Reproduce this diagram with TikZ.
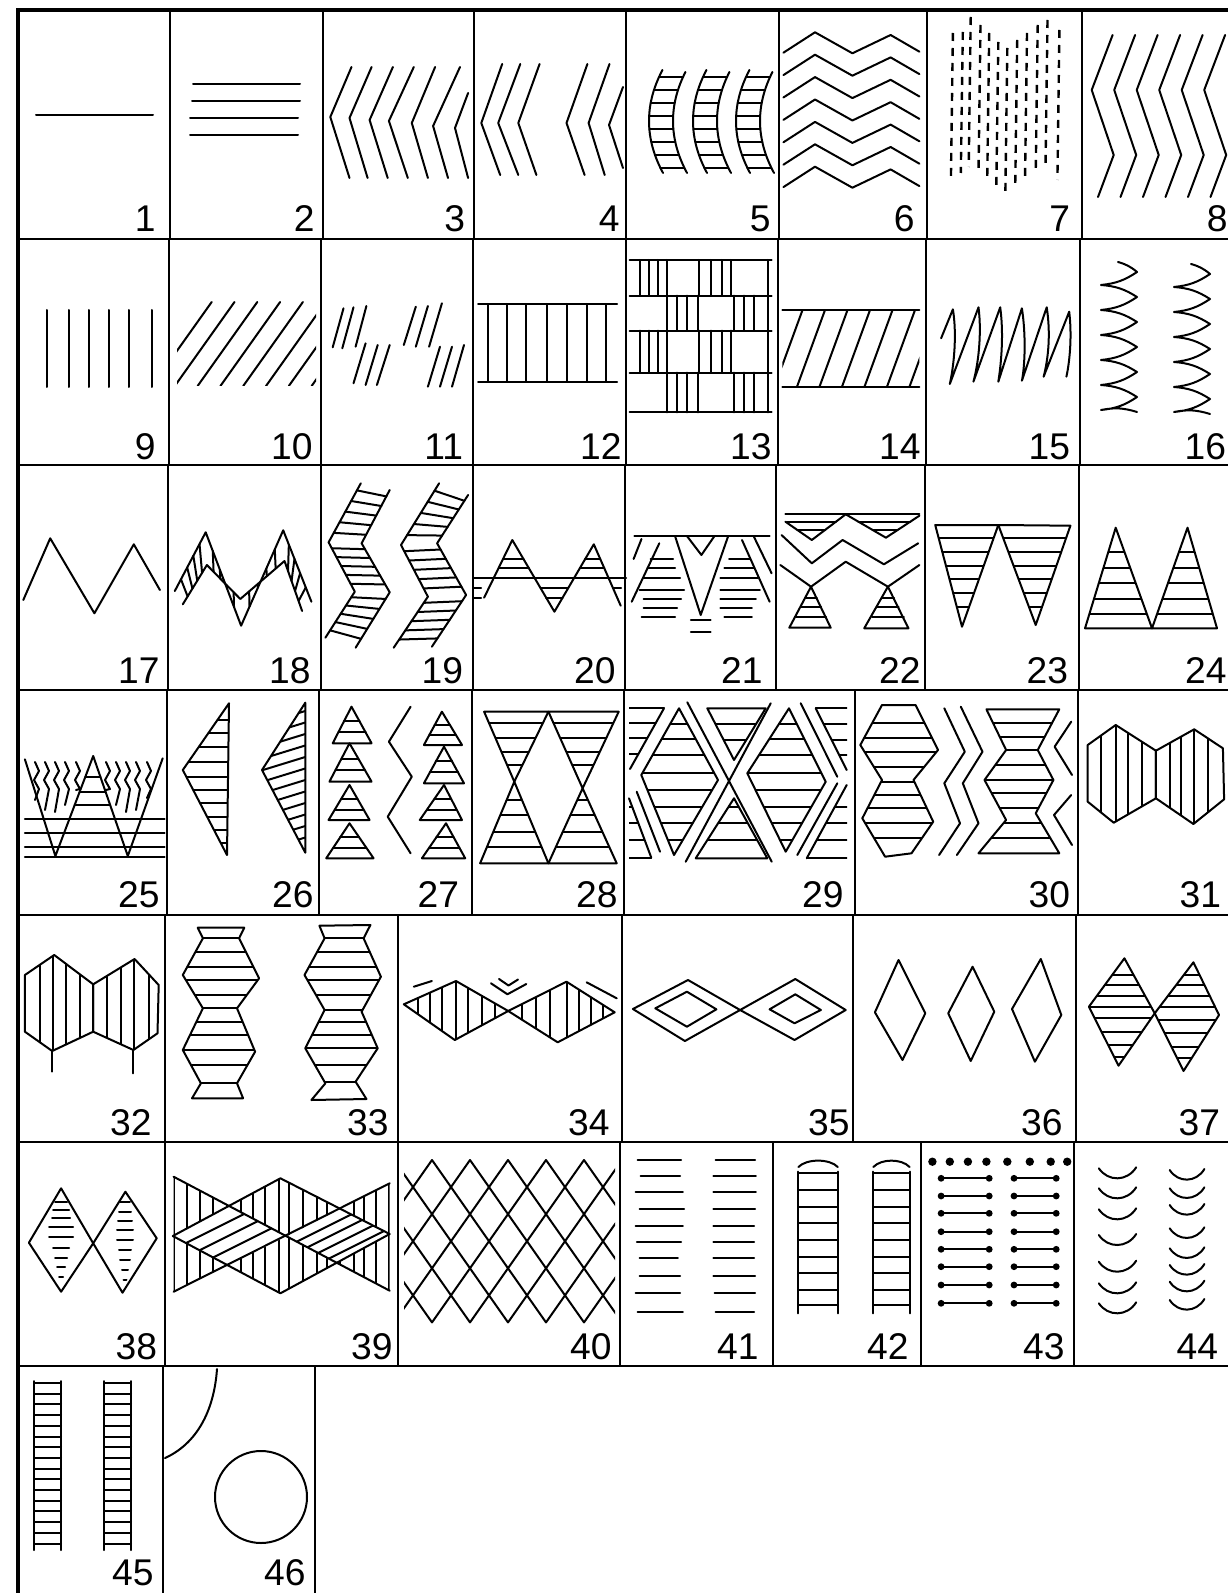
\documentclass[tikz,border=0pt]{standalone}
\usepackage{fontspec}
\setmainfont{Liberation Sans}
\usetikzlibrary{calc}
\newcommand\hclip[2]{\begin{scope}\clip #1;\foreach \yy in {#2}{\draw[pat] (0,\yy) -- (1228,\yy);}\end{scope}}
\newcommand\hpoly[2]{\hclip{#1}{#2}\draw[pat] #1;}
\newcommand\vpoly[2]{\begin{scope}\clip #1;\foreach \xx in {#2}{\draw[pat] (\xx,0) -- (\xx,1593);}\end{scope}\draw[pat] #1;}
\begin{document}
\begin{tikzpicture}[x=0.5pt,y=-0.5pt,
  pat/.style={line width=1pt,line cap=round,line join=round},
  gridl/.style={line width=0.9pt},
  outer/.style={line width=1.8pt},
  lbl/.style={anchor=base east,inner sep=0pt,font=\fontsize{18.6}{20}\selectfont}]
\useasboundingbox (0,0) rectangle (1228,1593);
\clip (0,0) rectangle (1228,1593);
% ---------------- grid
\draw[outer] (18,1593) -- (18,10) -- (1228,10);
\foreach \y in {239,465,690,915,1142,1366} \draw[gridl] (18,\y) -- (1228,\y);
\foreach \x in {170,323,474,626,779,927,1082} \draw[gridl] (\x,10) -- (\x,239);
\foreach \x in {169,321,473,626,778,926,1080} \draw[gridl] (\x,239) -- (\x,465);
\foreach \x in {168,321,473,625,776,925,1079} \draw[gridl] (\x,465) -- (\x,690);
\foreach \x in {167,319,472,624,855,1078} \draw[gridl] (\x,690) -- (\x,915);
\foreach \x in {165,398,622,853,1076} \draw[gridl] (\x,915) -- (\x,1142);
\foreach \x in {165,398,620,773,921,1074} \draw[gridl] (\x,1142) -- (\x,1366);
\foreach \x in {163,315} \draw[gridl] (\x,1366) -- (\x,1593);
% ---------------- labels
\foreach \x/\y/\n in {156/232/1,315/232/2,465.5/232/3,620/232/4,771/232/5,915/232/6,1070.5/232/7,1228/232/8,
156/459/9,313/459/10,463.5/459/11,622/459/12,772/459/13,921/459/14,1070.5/459/15,1226.5/459/16,
160/683/17,311/683/18,463.5/683/19,616/683/20,763/683/21,921/683/22,1068.5/683/23,1227/683/24,
160/907/25,314/907/26,459.5/907/27,618/907/28,844/907/29,1070.5/907/30,1221.5/907/31,
152/1135/32,389/1135/33,610/1135/34,850/1135/35,1063/1135/36,1220.5/1135/37,
157.5/1359/38,393/1359/39,612/1359/40,759/1359/41,909/1359/42,1065/1359/43,1218.5/1359/44,
154/1585/45,306/1585/46}
  \node[lbl] (l\n) at (\x,\y) {\n};
% ---------------- 1
\draw[pat] (36,115) -- (153,115);
% ---------------- 2
\foreach \y/\a/\b in {84/193/300,101/192/300,118/190/298,135/190/298} \draw[pat] (\a,\y) -- (\b,\y);
% ---------------- 3
\foreach \t/\ty/\v/\vy/\b in {351.5/67/330.3/117/349.5,371.6/67/349.5/118/367.6,392.9/67/369.6/120/387.7,413.8/67/388.9/121/407.8,435.1/67/411.8/123/427.9,460/67/433.1/126/448,468.1/93/455/128/468.1}
  \draw[pat] (\t,\ty) -- (\v,\vy) -- (\b,178);
% ---------------- 4
\foreach \t/\v/\b in {502.2/481.3/500.2,520.3/498.2/518.3,539.6/518.3/536.4,587.4/566.5/584.6,609.5/588.6/604.7}
  \draw[pat] (\t,64) -- (\v,123) -- (\b,175);
\draw[pat] (623,87) -- (609,125) -- (623,168);
% ---------------- 5
\foreach \a in {649,693,736}{
  \draw[pat] plot[variable=\t,domain=70:173,samples=25] ({\a+14*((\t-121)/52)*((\t-121)/52)},\t);
  \draw[pat] plot[variable=\t,domain=72:173,samples=25] ({\a+24+14*((\t-121)/52)*((\t-121)/52)},\t);
  \foreach \r in {77,90,103,116,129,142,155,168}
    \draw[pat] ({\a+14*((\r-121)/52)*((\r-121)/52)},\r) -- ({\a+24+14*((\r-121)/52)*((\r-121)/52)},\r);
}
% ---------------- 6
\foreach \k in {0,...,6}{\pgfmathsetmacro\p{32.3+22.4*\k}
  \draw[pat] (783.4,\p+20.4) -- (815,\p) -- (852.4,\p+21) -- (890.6,\p+2.7) -- (919.4,\p+19.4);}
% ---------------- 7
\foreach \x/\a/\b in {952.9/33/180,962.8/32/173,970.7/17/167,980.5/25/173,989.2/33/180,998.3/42/187,1007.3/48/197,1017.2/40/187,1027/33/180,1037.7/25/173,1047.5/20/167,1059.4/30/180}
  \draw[line width=1.2pt,dash pattern=on 4pt off 3.5pt] (\x,\a) -- (\x-2,\b);
% ---------------- 8
\foreach \k in {0,...,5}
  \draw[pat] (1112.6+22.5*\k,35) -- (1091.7+22.5*\k,90) -- (1113.7+22.5*\k,155) -- (1098+22.5*\k,197);
% ---------------- 9
\foreach \x in {47.4,69.1,89.2,108.5,129.4,151.9} \draw[pat] (\x,310) -- (\x,387);
% ---------------- 10
\begin{scope}\clip (177,302) rectangle (316,386);
\foreach \k in {0,...,7} \draw[pat] (152+22.8*\k,386) -- (211.7+22.8*\k,302);
\end{scope}
% ---------------- 11
\foreach \a/\b/\c/\d in {332.7/347.3/343.5/308.3,342.3/348.3/353.5/307.3,355.6/346.7/366.4/306,353.5/383.3/365.6/343.3,365.6/385/377.7/345,376.9/385/389.7/345,403.8/345/415.8/306.7,415.8/346.7/427.9/306,429.1/346.7/441.9/303.3,427.9/386.7/440/346.7,440/386.7/452/346.7,452/386.7/464/345}
  \draw[pat] (\a,\b) -- (\c,\d);
% ---------------- 12
\draw[pat] (478,304) -- (617,304); \draw[pat] (478,381.7) -- (617,381.7);
\foreach \x in {488.1,507,526.3,547.2,567.3,587.4,605.9} \draw[pat] (\x,304) -- (\x,381.7);
% ---------------- 13
\foreach \y in {260,295.7,330.7,372.7,412.3} \draw[pat] (629.7,\y) -- (771.6,\y);
\foreach \ya/\yb in {260/295.7,330.7/372.7} \foreach \x in {639.6,649.4,658.1,667.2,698.7,710.5,721.5,731,767.7} \draw[pat] (\x,\ya) -- (\x,\yb);
\foreach \ya/\yb in {295.7/330.7,372.7/412.3} \foreach \x in {667.2,677,686.9,697.5,734.2,744,753.9,767.7} \draw[pat] (\x,\ya) -- (\x,\yb);
% ---------------- 14
\draw[pat] (782.3,310) -- (919.4,310); \draw[pat] (782.3,386.7) -- (919.4,386.7);
\begin{scope}\clip (782.3,305) rectangle (919.4,392);
\foreach \k in {0,...,7} \draw[pat] (774.5+22.5*\k,386.7) -- (802.5+22.5*\k,310);
\end{scope}
% ---------------- 15
\draw[pat] (941.1,338.3) -- (952.9,309.3) .. controls (957,335) and (954,365) .. (949.8,384) -- (978.5,307.3) .. controls (982,335) and (978,365) .. (973.4,381.7) -- (1000.2,307.3) .. controls (1004,335) and (1001,365) .. (998.3,381.7) -- (1021.9,308.3) .. controls (1026,335) and (1025,365) .. (1021.9,380.7) -- (1046.7,307.3) .. controls (1051,335) and (1048,360) .. (1043.6,376.7) -- (1069.2,311.7) .. controls (1072,335) and (1070,360) .. (1066.4,376.7);
% ---------------- 16
\foreach \ox/\oy in {0/0,73/2}{
\draw[pat] (1118+\ox,262+\oy) to[bend left=12] (1137+\ox,272+\oy)
  \foreach \k in {0,...,4}{ to[bend left=14] (1101+\ox,285+25*\k+\oy) to[bend left=14] (1137+\ox,297+25*\k+\oy)}
  to[bend left=14] (1101+\ox,410+\oy) to[bend left=14] (1137+\ox,412+\oy);}
% ---------------- 17
\draw[pat] (23.3,600) -- (50.2,538.3) -- (94.4,613.3) -- (133.8,544.3) -- (159.9,590);
% ---------------- 18
\coordinate (o0) at (174.8,591); \coordinate (o1) at (205.7,532.3); \coordinate (o2) at (241.1,625.7); \coordinate (o3) at (283.2,530.3); \coordinate (o4) at (311.4,601.7);
\coordinate (i0) at (182.8,604.3); \coordinate (i1) at (206.9,565); \coordinate (i2) at (240.3,599); \coordinate (i3) at (284.5,561); \coordinate (i4) at (302.1,611);
\draw[pat] (o0)--(o1)--(o2)--(o3)--(o4); \draw[pat] (i0)--(i1)--(i2)--(i3)--(i4);
\foreach \i/\j in {0/1,1/2,2/3,3/4}\foreach \t in {0.2,0.4,0.6,0.8}\draw[pat] ($(o\i)!\t!(o\j)$) -- ($(i\i)!\t!(i\j)$);
% ---------------- 19
\coordinate (a0) at (360.8,483.3); \coordinate (a1) at (328.6,542.3); \coordinate (a2) at (354.8,591.7); \coordinate (a3) at (325.4,637.7);
\coordinate (b0) at (389.7,490); \coordinate (b1) at (361.6,543.3); \coordinate (b2) at (389.7,592.3); \coordinate (b3) at (355.6,647.7);
\coordinate (c0) at (439.1,483.3); \coordinate (c1) at (401,545); \coordinate (c2) at (427.9,596.7); \coordinate (c3) at (393.7,647.7);
\coordinate (d0) at (468.1,495); \coordinate (d1) at (437.1,543.3); \coordinate (d2) at (466.1,595); \coordinate (d3) at (431.9,646.7);
\draw[pat] (a0)--(a1)--(a2)--(a3); \draw[pat] (b0)--(b1)--(b2)--(b3);
\draw[pat] (c0)--(c1)--(c2)--(c3); \draw[pat] (d0)--(d1)--(d2)--(d3);
\foreach \i/\j in {0/1,1/2,2/3}\foreach \t in {0.12,0.3,0.48,0.66,0.84}{
  \draw[pat] ($(a\i)!\t!(a\j)$) -- ($(b\i)!\t!(b\j)$);
  \draw[pat] ($(c\i)!\t!(c\j)$) -- ($(d\i)!\t!(d\j)$);}
% ---------------- 20
\draw[pat] (474,577.7) -- (626,577.7);
\draw[pat] (484.1,597.7) -- (512.3,540) -- (554.4,611.7) -- (593.8,544.3) -- (620.7,605.7);
\foreach \a/\b/\y in {503/523.5/559,498.5/528.9/568.3,540.7/568.1/588.3,546.2/562.6/597.7,585.2/600.1/559,579.8/604.3/568.3,474/481/588.3,474/481/597.7,613/621/588.3}
  \draw[pat] (\a,\y) -- (\b,\y);
% ---------------- 21
\draw[pat] (634.4,536) -- (769.6,536);
\draw[pat] (675,536) -- (700.7,615) -- (728.2,536);
\draw[pat] (686.9,536) -- (701.4,555) -- (714.5,536);
\draw[pat] (659.3,543.3) -- (631.7,601.7);
\draw[pat] (742,540) -- (769.6,601.7);
\draw[pat] (641.5,539) -- (633.6,559);
\draw[pat] (753.9,536.7) -- (771.6,573.3);
\foreach \a/\b/\y in {650.5/673/559,647.4/675/568.3,643.5/680/578.3,639.6/684/590,643.5/681/599,643.5/677/608.3,641.5/675/617.3,
  729/749.9/559,724.3/753.9/568.3,720.4/757.8/578.3,720.4/759.8/590,720.4/755.8/599,720.4/751.9/608.3,724.3/751.9/617.3,
  690.8/710.5/620,690.8/710.5/631.7}
  \draw[pat] (\a,\y) -- (\b,\y);
% ---------------- 22
\draw[pat] (785.4,514.3) -- (919.4,514.3);
\draw[pat] (785.4,521.7) -- (811.8,540) -- (845.7,514.3) -- (885.9,537.7) -- (919.4,515.7);
\draw[pat] (781.5,535) -- (811.8,563.3) -- (842.6,540) -- (883.9,564.3) -- (918.2,543.3);
\draw[pat] (780.3,565) -- (811,586.7) -- (845.7,561.7) -- (887.9,586.7) -- (919.4,565);
\draw[pat] (811,586.7) -- (789.3,627.7) -- (830.7,627.7) -- cycle;
\draw[pat] (887.9,586.7) -- (864.2,628.3) -- (908.4,628.3) -- cycle;
\foreach \a/\b/\y in {787/835.9/521.7,797.4/825/530,858.4/910.3/521.7,872.7/897.6/530,805.1/816.9/598.3,800.9/821.1/606.7,795.9/826.1/616.7,881.7/894.1/598.3,877.3/898.5/606.7,872/903.8/616.7}
  \draw[pat] (\a,\y) -- (\b,\y);
% ---------------- 23
\hpoly{(935.2,525) -- (998.3,525) -- (962,626.7) -- cycle}{538.3,552.3,565.7,579,593.3,606.7}
\hpoly{(998.3,525) -- (1070.4,525.7) -- (1035.7,625) -- cycle}{538.3,552.3,565.7,579,593.3,606.7}
% ---------------- 24
\hpoly{(1085,628.3) -- (1115.7,527.7) -- (1152,628.3) -- cycle}{551.7,568.3,583.3,599.3,614.3}
\hpoly{(1152,628.3) -- (1187.5,527.7) -- (1217,628.3) -- cycle}{551.7,568.3,583.3,599.3,614.3}
% ---------------- 25
\draw[pat] (24.9,759.3) -- (55.4,856) -- (93.2,756) -- (127.8,856) -- (162.7,758.3);
\foreach \y in {819.3,832.7,846.7,857.3} \draw[pat] (24.9,\y) -- (164.7,\y);
\foreach \y/\a/\b in {776.7/85.4/100.4,791.7/79.7/105.6,805/74.7/110} \draw[pat] (\a,\y) -- (\b,\y);
\foreach \x/\e in {35/800,45/810,55/812,65/805,76/790,106/790,116/805,126/812,136/810,147/798}
  \draw[pat] (\x,762) -- (\x+4,771) -- (\x-1,780) -- (\x+4,789) -- (\x,\e);
% ---------------- 26
\hpoly{(229,703.3) -- (182.8,770) -- (227,855) -- cycle}{720,733.3,746.7,761.7,776.7,790,803.3,816.7,830,843.3}
\begin{scope}\clip (305.3,702.7) -- (262,770) -- (305.3,852.7) -- cycle;
\foreach \k in {0,...,12} \draw[pat] (250,728+11.5*\k) -- (315,708+11.5*\k);
\end{scope}
\draw[pat] (305.3,702.7) -- (262,770) -- (305.3,852.7) -- cycle;
% ---------------- 27
\foreach \ax/\ay/\lx/\rx/\by in {351.5/706.7/332.7/371.6/743.3,349.5/743.3/329.4/371.6/781.7,349.5/785/328.6/369.6/820,349.5/823.3/326.2/373.6/858.3,441.9/711.7/423.9/462/745,444/746.7/423.9/464/783.3,444/785/419.8/462/820,446/823.3/421.9/465.2/858.3}{
  \draw[pat] (\ax,\ay) -- (\lx,\by) -- (\rx,\by) -- cycle;
  \foreach \f in {0.4,0.7} \draw[pat] ($(\ax,\ay)!\f!(\lx,\by)$) -- ($(\ax,\ay)!\f!(\rx,\by)$);}
\draw[pat] (410.6,706.7) -- (388.9,741.7) -- (411.8,776.7) -- (387.7,816.7) -- (410.6,853.3);
% ---------------- 28
\hpoly{(484.1,711.7) -- (548.4,711.7) -- (514.3,781.7) -- cycle}{723.3,738.3,751.7,765}
\hpoly{(514.3,781.7) -- (480.1,863.3) -- (548.4,863.3) -- cycle}{800,815,831.7,846.7}
\hpoly{(548.4,711.7) -- (618.7,711.7) -- (582.6,788.3) -- cycle}{723.3,738.3,751.7,765}
\hpoly{(582.6,788.3) -- (548.4,863.3) -- (616.7,863.3) -- cycle}{800,815,831.7,846.7}
% ---------------- 29
\hclip{(629,705) -- (665.9,705) -- (630,770) -- (629,770) -- cycle}{708.3,723.3,738.3,754.3}
\draw[pat] (664,708.3) -- (630,769);
\hpoly{(679,708.3) -- (641.3,775) -- (674,855) -- (718,780) -- cycle}{724.3,739.3,755,772.7,790,806.7,823.3,840}
\hpoly{(789,708.3) -- (747.3,773.3) -- (785.7,851.7) -- (825.7,781.7) -- cycle}{724.3,739.3,755,772.7,790,806.7,823.3,840}
\hpoly{(707.3,708.3) -- (765.7,708.3) -- (734,760) -- cycle}{724.3,740}
\hpoly{(734,798.3) -- (695.7,858.3) -- (767.3,858.3) -- cycle}{806.7,823.3,840}
\hclip{(629,796) -- (652.2,860) -- (629,860) -- cycle}{806.7,823.3,840,857.7}
\draw[pat] (629,798.3) -- (651.3,857.7);
\hclip{(814.5,706) -- (847,706) -- (847,771) -- cycle}{708.3,724.3,740,755}
\draw[pat] (815.7,708.3) -- (846.7,770);
\hclip{(847,784) -- (847,860) -- (805.8,860) -- cycle}{806.7,823.3,840,858.3}
\draw[pat] (846.7,785) -- (806.7,858.3);
\draw[pat] (687.3,702.3) -- (771.7,861.7);
\draw[pat] (770.7,703.3) -- (685.7,861.7);
\draw[pat] (636.7,791.7) -- (660,851.7);
\draw[pat] (800.7,703.3) -- (837.3,776.7);
\draw[pat] (837.3,783.3) -- (797.3,855);
% ---------------- 30
\hpoly{(882,705) -- (915.5,705) -- (938,750) -- (913.5,780) -- (933.2,821.7) -- (911.5,853.3) -- (885.1,856.7) -- (862.3,818.3) -- (882,780) -- (860.3,745) -- cycle}{723.3,738.3,751.7,766.7,781.7,795,808.3,823.3,838.3}
\draw[pat] (944.3,708.3) -- (964.8,751.7) -- (944.3,783.3) -- (960,823.3) -- (939.1,855);
\draw[pat] (960.8,706.7) -- (982.5,751.7) -- (962.8,783.3) -- (978.5,823.3) -- (956.9,855);
\hpoly{(986.4,709.3) -- (1059.3,709.3) -- (1037.7,750) -- (1053.4,780) -- (1035.7,813.3) -- (1059.3,853.3) -- (978.5,853.3) -- (1006.1,820) -- (984.5,780) -- (1006.1,750) -- cycle}{723.3,736.7,750,765,780,793.3,808.3,823.3,838.3}
\draw[pat] (1071.2,721.7) -- (1054.6,746.7) -- (1072,775);
\draw[pat] (1071.2,795) -- (1054,815) -- (1072,845);
% ---------------- 31
\vpoly{(1115.7,725) -- (1087.7,745) -- (1087.7,801.7) -- (1113.7,822.7) -- (1155.9,798.3) -- (1155.9,750.7) -- cycle}{1100.7,1115.7,1128.3,1142.1}
\vpoly{(1155.9,750.7) -- (1194.2,729.3) -- (1222.9,748.3) -- (1224.1,799.3) -- (1193.4,824) -- (1155.9,798.3) -- cycle}{1169.7,1180.8,1194.2,1208.3}
% ---------------- 32
\vpoly{(54.2,955) -- (24.9,975) -- (24.9,1031.7) -- (52.2,1051) -- (93.2,1031.7) -- (93.2,984.3) -- cycle}{40.2,53.2,66.3,80.4}
\vpoly{(93.2,984.3) -- (134.6,959) -- (158.7,985) -- (157.5,1033.3) -- (133.4,1050) -- (93.2,1031.7) -- cycle}{106.5,120.5,134,148.7}
\draw[pat] (52.2,1051) -- (52.2,1071.7); \draw[pat] (133.4,1050) -- (133.4,1073.3);
% ---------------- 33
\hpoly{(197.7,927.7) -- (202.9,938.3) -- (182.8,975) -- (202.9,1008.3) -- (182.8,1050) -- (200.9,1083.3) -- (192,1098.3) -- (243.1,1098.3) -- (237,1083.3) -- (255.1,1051.7) -- (237,1008.3) -- (259.1,978.3) -- (239.1,938.3) -- (244.3,927.7) -- cycle}{938.3,951.7,966.7,980,995,1008.3,1021.7,1035,1050,1065,1083.3}
\hpoly{(319.4,925.7) -- (324.6,938.3) -- (304.5,975) -- (324.6,1010) -- (305.3,1048.3) -- (325.4,1083.3) -- (311.4,1100) -- (366.4,1099) -- (355.6,1081.7) -- (377.7,1048.3) -- (361.6,1011.7) -- (380.9,976.7) -- (363.6,938.3) -- (370.4,925) -- cycle}{938.3,951.7,966.7,980,995,1010,1021.7,1035,1048.3,1065,1081.7}
% ---------------- 34
\vpoly{(403.8,1004.3) -- (456,981) -- (508.2,1011) -- (454.8,1040) -- cycle}{417.8,429.9,441.8,456,468.1,482.1,495}
\vpoly{(508.2,1011) -- (566.5,981.7) -- (614.7,1012.3) -- (557.7,1042.3) -- cycle}{522.3,536.4,550.4,566.5,578.5,590.6,602.6}
\draw[pat] (413.8,986.7) -- (431.9,981);
\draw[pat] (491,983.3) -- (507.4,994.3) -- (526.3,984);
\draw[pat] (499,979) -- (508.5,985.5) -- (518,979.5);
\draw[pat] (586.6,982.3) -- (616.7,998.3);
% ---------------- 35
\draw[pat] (632.9,1009) -- (688,980) -- (740.1,1010) -- (684.9,1041) -- cycle;
\draw[pat] (655.3,1008.3) -- (686.9,991.7) -- (716.4,1009.3) -- (686.9,1026.7) -- cycle;
\draw[pat] (740.1,1010) -- (795.3,979) -- (845.7,1010) -- (794.5,1040) -- cycle;
\draw[pat] (769.6,1009.3) -- (795.3,994.3) -- (820.9,1010) -- (794.5,1023.3) -- cycle;
% ---------------- 36
\draw[pat] (898.5,960) -- (874.9,1012.3) -- (902.5,1060) -- (925.3,1013.3) -- cycle;
\draw[pat] (972.6,966.7) -- (948.2,1013.3) -- (970.7,1061) -- (994.3,1011.7) -- cycle;
\draw[pat] (1040.8,959) -- (1012,1009) -- (1034.9,1061.7) -- (1061.3,1015) -- cycle;
% ---------------- 37
\hpoly{(1124.4,958.3) -- (1088.9,1006.7) -- (1118.5,1065.7) -- (1154.7,1013.3) -- cycle}{975,985,995.7,1006.7,1018.3,1031.7,1045,1056.7}
\hpoly{(1193.4,962.3) -- (1154.7,1013.3) -- (1183.5,1071) -- (1219,1015) -- cycle}{975,985,995.7,1006.7,1019.7,1033,1046.7,1058.3}
% ---------------- 38
\draw[pat] (61.1,1188.3) -- (28.9,1242.7) -- (61.1,1291.7) -- (93.2,1243.3) -- cycle;
\draw[pat] (125.4,1191.7) -- (93.2,1243.3) -- (122.5,1292.7) -- (156.7,1238.3) -- cycle;
\foreach \y/\w in {1201.7/12,1210/16,1218.3/18,1227.3/24,1237.3/24,1248.3/16,1258.3/12,1266.7/8,1276.7/4}
  \draw[pat] (61.1-\w/2,\y) -- (61.1+\w/2,\y);
\foreach \y/\w in {1201.7/10,1211.7/12,1221/14,1230.3/16,1240.3/16,1250.3/12,1260.3/10,1270.3/6,1280.3/3}
  \draw[pat] (125-\w/2,\y) -- (125+\w/2,\y);
% ---------------- 39
\begin{scope}[even odd rule]
\clip (173.6,1176.7) -- (287.3,1236) -- (173.6,1291.7) -- cycle (389.7,1183.3) -- (287.3,1236) -- (389.7,1290.7) -- cycle (280.4,1178.3) -- (172.8,1236) -- (280.4,1293.3) -- (389.7,1234) -- cycle;
\foreach \x in {174,187,200,213,227,241,253,265,279,289,303,317,327,340,354,364,376,389} \draw[pat] (\x,1170) -- (\x,1300);
\end{scope}
\begin{scope}
\clip (173.6,1176.7) -- (287.3,1236) -- (173.6,1291.7) -- cycle (389.7,1183.3) -- (287.3,1236) -- (389.7,1290.7) -- cycle;
\clip (280.4,1178.3) -- (172.8,1236) -- (280.4,1293.3) -- (389.7,1234) -- cycle;
\foreach \c in {1336,1350,1364,1390,1401,1412,1423} \draw[pat] (160,\c-80) -- (400,\c-200);
\end{scope}
\draw[pat] (173.6,1176.7) -- (389.7,1290.7);
\draw[pat] (173.6,1291.7) -- (389.7,1183.3);
\draw[pat] (280.4,1178.3) -- (172.8,1236) -- (280.4,1293.3) -- (389.7,1234) -- cycle;
% ---------------- 40
\begin{scope}\clip (404,1150) rectangle (615,1330);
\foreach \i in {-4,...,8}{
  \draw[pat] (432+38*\i,1160) -- ++(114,162.4);
  \draw[pat] (432+38*\i,1160) -- ++(-114,162.4);}
\end{scope}
% ---------------- 41
\foreach \y/\a/\b/\c/\d in {1160/637.6/681/715.6/755,1176/640.7/680.2/713.3/755.8,1192.3/635.6/682.9/713.3/755.8,1209.3/639.6/684.1/713.3/755,1226/635.6/682.9/713.3/754,1241.7/636.8/681/713.3/754,1258.3/639.6/677.8/713.3/754,1275.7/639.6/680.2/713.3/755,1293.3/635.6/680.2/714.5/755,1311.7/637.6/682.9/715.6/754}{
  \draw[pat] (\a,\y) -- (\b,\y); \draw[pat] (\c,\y) -- (\d,\y);}
% ---------------- 42
\foreach \a/\b in {798.4/837.8,873.3/909.6}{
  \draw[pat] (\a,1171.7) -- (\a,1313.3); \draw[pat] (\b,1171.7) -- (\b,1313.3);
  \draw[pat] (\a,1167) .. controls (\a+8,1158.5) and (\b-8,1158.5) .. (\b,1167);
  \foreach \y in {1173.3,1190,1206.7,1223.3,1240,1256.7,1273.3,1290,1305} \draw[pat] (\a,\y) -- (\b,\y);}
% ---------------- 43
\foreach \x in {932.4,949.8,967.9,986.4,1007.3,1029.8,1050.7,1067.2} \fill (\x,1161.7) circle[radius=2.1pt];
\foreach \y in {1178.3,1196,1213.3,1231.7,1249.3,1266.7,1285,1303.3}{
  \draw[pat] (941.1,\y) -- (989.2,\y); \draw[pat] (1014,\y) -- (1056.2,\y);
  \foreach \x in {941.1,989.2,1014,1056.2} \fill (\x,\y) circle[radius=1.7pt];}
% ---------------- 44
\foreach \t in {1168.3,1188.3,1209.3,1235,1261.7,1283.3,1303.3}
  \draw[pat] (1098.8,\t) .. controls (1108,\t+13.5) and (1127,\t+13.5) .. (1136.2,\t-1);
\foreach \t in {1170,1188.3,1205,1228.3,1248.3,1265,1281.7,1300}
  \draw[pat] (1169.7,\t) .. controls (1178,\t+13) and (1196,\t+13) .. (1204.4,\t-1);
% ---------------- 45
\foreach \a/\b in {34/61,104/131}{
  \draw[pat] (\a,1381) -- (\a,1550); \draw[pat] (\b,1381) -- (\b,1550);
  \foreach \k in {0,...,15} \draw[pat] (\a,1383+10.7*\k) -- (\b,1383+10.7*\k);}
% ---------------- 46
\draw[pat] (217,1369) .. controls (214,1412) and (196,1444) .. (165,1458);
\draw[pat] (261,1497) circle[radius=23pt];
\end{tikzpicture}
\end{document}
